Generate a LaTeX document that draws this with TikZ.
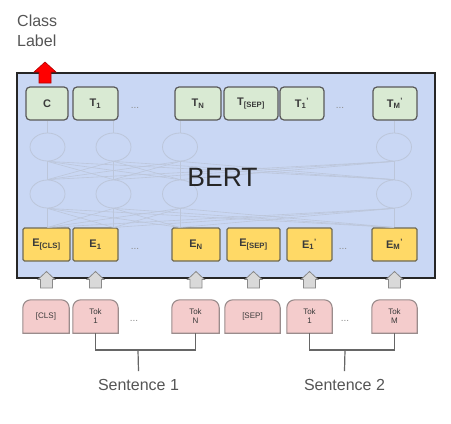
\documentclass[tikz,border=0pt]{standalone}
\usepackage{fontspec}
\setmainfont{Liberation Sans}
\usetikzlibrary{shapes.geometric}
\definecolor{boxblue}{HTML}{C9D7F4}
\definecolor{tgreen}{HTML}{D9EAD3}
\definecolor{eyellow}{HTML}{FFD966}
\definecolor{eborder}{HTML}{6F6A55}
\definecolor{tokpink}{HTML}{F4CCCC}
\definecolor{tokborder}{HTML}{9A8C8C}
\definecolor{txtgray}{HTML}{555555}
\definecolor{nodetxt}{HTML}{3A3A3A}
\definecolor{faintline}{HTML}{BCC6DA}
\definecolor{arrgray}{HTML}{D9D9D9}
\definecolor{arrborder}{HTML}{8A8A8A}
\begin{document}
\begin{tikzpicture}[x=1pt,y=1pt,
  bertbox/.style={draw=black!85,line width=2.2pt,fill=boxblue,minimum width=418pt,minimum height=205pt,inner sep=0pt},
  tnode/.style={draw=black!65,line width=1.2pt,fill=tgreen,rounded corners=4pt,minimum height=33pt,inner sep=0pt,text=nodetxt,font=\fontsize{11}{12}\selectfont\bfseries},
  enode/.style={draw=eborder,line width=1.1pt,fill=eyellow,rounded corners=1.5pt,minimum height=33pt,inner sep=0pt,text=nodetxt,font=\fontsize{11}{12}\selectfont\bfseries},
  toknode/.style={minimum height=33pt,inner sep=0pt,text=nodetxt,font=\fontsize{8}{9}\selectfont,align=center},
  tokshape/.style={draw=tokborder,line width=1.1pt,fill=tokpink},
  ell/.style={draw=faintline,line width=0.8pt,ellipse,minimum width=35pt,minimum height=28pt,inner sep=0pt},
  faint/.style={draw=faintline,line width=0.6pt},
  grayarrow/.style={draw=arrborder,line width=0.8pt,fill=arrgray},
  redarrow/.style={draw=red!70!black,line width=0.6pt,fill=red},
  dotsnode/.style={text=black!45,font=\fontsize{10}{10}\selectfont,anchor=base},
  bracket/.style={draw=black!60,line width=1.2pt},
  label/.style={text=txtgray,font=\fontsize{16}{20}\selectfont}
]
\useasboundingbox[fill=white] (0,0) rectangle (451,-424);
% main box
\node[bertbox] (bert) at (226,-175.5) {};
% ellipses
\foreach \n/\x in {1/47.5,2/113.5,3/180,4/394}{
  \node[ell] (a\n) at (\x,-147) {};
  \node[ell] (b\n) at (\x,-194) {};
}
% T row
\node[tnode,minimum width=42pt] (tc) at (47,-103.5) {C};
\node[tnode,minimum width=45pt] (t1) at (95.5,-103.5) {T\textsubscript{1}};
\node[tnode,minimum width=46pt] (tn) at (198,-103.5) {T\textsubscript{N}};
\node[tnode,minimum width=54pt] (tsep) at (251,-103.5) {T\textsubscript{[SEP]}};
\node[tnode,minimum width=44pt] (t1p) at (302,-103.5) {T\textsubscript{1}\textsuperscript{'}};
\node[tnode,minimum width=44pt] (tmp) at (395,-103.5) {T\textsubscript{M}\textsuperscript{'}};
% E row
\node[enode,minimum width=47pt] (ecls) at (46.5,-244.5) {E\textsubscript{[CLS]}};
\node[enode,minimum width=45pt] (e1) at (95.5,-244.5) {E\textsubscript{1}};
\node[enode,minimum width=48pt] (en) at (196,-244.5) {E\textsubscript{N}};
\node[enode,minimum width=53pt] (esep) at (253.5,-244.5) {E\textsubscript{[SEP]}};
\node[enode,minimum width=45pt] (e1p) at (309.5,-244.5) {E\textsubscript{1}\textsuperscript{'}};
\node[enode,minimum width=45pt] (emp) at (394.5,-244.5) {E\textsubscript{M}\textsuperscript{'}};
% faint connections
\foreach \n/\t in {1/tc,2/t1,3/tn,4/tmp}{
  \draw[faint] (a\n.north) -- (a\n.north |- \t.south);
}
\foreach \n/\e in {1/ecls,2/e1,3/en,4/emp}{
  \coordinate (ec\n) at (b\n.south |- \e.north);
}
\foreach \i in {1,...,4}{
  \foreach \j in {1,...,4}{
    \draw[faint] (a\i.south) -- (b\j.north);
    \draw[faint] (b\i.south) -- (ec\j);
  }
}
\node[text=black!85,font=\fontsize{26.5}{28}\selectfont] (bertlabel) at (222.5,-177.5) {BERT};
% dots
\node[dotsnode] (d1) at (135,-108) {...};
\node[dotsnode] (d2) at (340,-108) {...};
\node[dotsnode] (d3) at (135,-249) {...};
\node[dotsnode] (d4) at (343,-249) {...};
\node[dotsnode] (d5) at (134,-321) {...};
\node[dotsnode] (d6) at (345,-321) {...};
% token row
\foreach \nm/\x/\w/\txt in {tcls/46/46/[CLS],tok1/95.5/45/Tok\\1,tokn/195.5/47/Tok\\N,tsepk/252.5/55/[SEP],tok1p/309.5/45/Tok\\1,tokm/394.5/45/Tok\\M}{
  \node[toknode,minimum width=\w pt] (\nm) at (\x,-316.5) {};
  \draw[tokshape] (\nm.south west) -- ([yshift=-8pt]\nm.north west) arc[start angle=180,end angle=90,radius=8pt] -- ([xshift=-8pt]\nm.north east) arc[start angle=90,end angle=0,radius=8pt] -- (\nm.south east) -- cycle;
  \node[toknode] at (\nm) {\txt};
}
% gray arrows (house shapes between token and embedding)
\coordinate (arrline) at (0,-280);
\foreach \nm/\e in {tcls/ecls,tok1/e1,tokn/en,tsepk/esep,tok1p/e1p,tokm/emp}{
  \coordinate (g\nm) at (\e.south |- arrline);
  \draw[grayarrow] ([shift={(-6,-8)}]g\nm) -- ([shift={(-6,0.5)}]g\nm) -- ([shift={(-8.5,0.5)}]g\nm) -- ([shift={(0,8.5)}]g\nm) -- ([shift={(8.5,0.5)}]g\nm) -- ([shift={(6,0.5)}]g\nm) -- ([shift={(6,-8)}]g\nm) -- cycle;
}
% red arrow and class label
\coordinate (red) at (45,-72);
\draw[redarrow] ([shift={(-6,-11)}]red) -- ([shift={(-6,0)}]red) -- ([shift={(-11,0)}]red) -- ([shift={(0,10)}]red) -- ([shift={(11,0)}]red) -- ([shift={(6,0)}]red) -- ([shift={(6,-11)}]red) -- cycle;
\node[label,anchor=north west,align=left,inner sep=0pt] (cl) at (17,-15) {Class\\Label};
% brackets
\coordinate (s1top) at (138,-350);
\coordinate (s2top) at (345,-350);
\node[label,inner sep=0pt] (s1) at (138.5,-385) {Sentence 1};
\node[label,inner sep=0pt] (s2) at (344.5,-385) {Sentence 2};
\draw[bracket] (tok1.south) |- (s1top) -| (tokn.south);
\draw[bracket] (s1top) -- ([yshift=8pt]s1.north);
\draw[bracket] (tok1p.south) |- (s2top) -| (tokm.south);
\draw[bracket] (s2top) -- ([yshift=8pt]s2.north);
\end{tikzpicture}
\end{document}
